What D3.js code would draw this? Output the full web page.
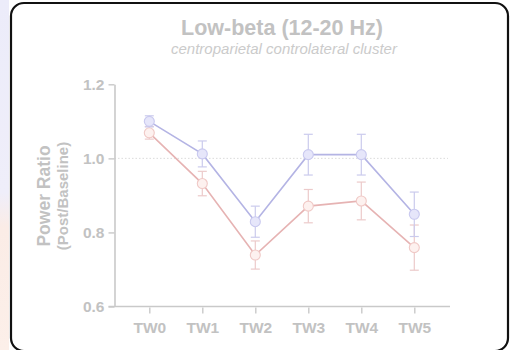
<!DOCTYPE html>
<html>
<head>
<meta charset="utf-8">
<script src="https://cdn.jsdelivr.net/npm/d3@7"></script>
<style>
  html, body { margin: 0; padding: 0; background: #fff; }
  svg { display: block; font-family: "Liberation Sans", Arial, sans-serif; }
</style>
</head>
<body>
<svg id="chart" width="513" height="350"></svg>
<script>
// Time windows and per-condition power ratios (post / baseline) with SEM
const windows = ["TW0", "TW1", "TW2", "TW3", "TW4", "TW5"];
const blueMean = [1.100, 1.012, 0.829, 1.010, 1.010, 0.849];
const blueErr  = [0.015, 0.035, 0.042, 0.055, 0.055, 0.060];
const pinkMean = [1.069, 0.932, 0.739, 0.871, 0.885, 0.759];
const pinkErr  = [0.017, 0.033, 0.038, 0.045, 0.051, 0.061];
const yTicks = [0.6, 0.8, 1.0, 1.2];

const svg = d3.select("#chart");
const textGrey = "#c2c2c2";
const axisGrey = "#c9c9c9";
const font = "Liberation Sans, Arial, sans-serif";

// Side strip and outer rounded frame
const grad = svg.append("defs").append("linearGradient")
  .attr("id", "strip").attr("x1", 0).attr("y1", 0).attr("x2", 0).attr("y2", 1);
grad.append("stop").attr("offset", "0%").attr("stop-color", "#ececfa");
grad.append("stop").attr("offset", "55%").attr("stop-color", "#efeefa");
grad.append("stop").attr("offset", "65%").attr("stop-color", "#fbece6");
grad.append("stop").attr("offset", "100%").attr("stop-color", "#fcefe9");
svg.append("rect").attr("x", 0).attr("y", 0).attr("width", 9).attr("height", 350)
  .attr("fill", "url(#strip)");
svg.append("rect").attr("x", 11).attr("y", 3).attr("width", 497).attr("height", 348)
  .attr("rx", 13).attr("fill", "#fff").attr("stroke", "#111").attr("stroke-width", 2.2);

// Titles
svg.append("text").attr("x", 282).attr("y", 35).attr("text-anchor", "middle")
  .attr("font-size", 21.5).attr("font-weight", "bold").attr("fill", textGrey)
  .text("Low-beta (12-20 Hz)");
svg.append("text").attr("x", 284).attr("y", 54).attr("text-anchor", "middle")
  .attr("font-size", 15).attr("font-style", "italic").attr("fill", "#cbcbcb")
  .text("centroparietal controlateral cluster");

// Scales
const y = d3.scaleLinear().domain([0.6, 1.2]).range([306.5, 84.3]);
const x = d3.scalePoint().domain(windows).range([149.3, 414.3]);
const axisX = 114.5;
const axisRight = 450;

// Reference line at ratio 1.0
svg.append("line").attr("x1", axisX).attr("x2", 448)
  .attr("y1", y(1.0)).attr("y2", y(1.0))
  .attr("stroke", "#d2d2d2").attr("stroke-width", 0.8).attr("stroke-dasharray", "1.5,2");

// Y axis
const gy = svg.append("g").attr("transform", `translate(${axisX},0)`)
  .call(d3.axisLeft(y).tickValues(yTicks).tickFormat(d3.format(".1f")).tickSize(6).tickSizeOuter(0));
gy.select(".domain").attr("stroke", axisGrey).attr("stroke-width", 1.6);
gy.selectAll(".tick line").attr("stroke", axisGrey).attr("stroke-width", 1.4);
gy.selectAll(".tick text").attr("fill", textGrey).attr("font-size", 15.5)
  .attr("font-weight", "bold").attr("font-family", font)
  .attr("x", -10);

// X axis
svg.append("line").attr("x1", axisX - 6).attr("x2", axisRight)
  .attr("y1", y(0.6)).attr("y2", y(0.6))
  .attr("stroke", axisGrey).attr("stroke-width", 1.6);
const gx = svg.append("g").attr("transform", `translate(0,${y(0.6) + 1})`)
  .call(d3.axisBottom(x).tickSize(6).tickSizeOuter(0));
gx.select(".domain").remove();
gx.selectAll(".tick line").attr("stroke", axisGrey).attr("stroke-width", 1.4);
gx.selectAll(".tick text").attr("fill", textGrey).attr("font-size", 15.5)
  .attr("font-weight", "bold").attr("font-family", font)
  .attr("y", 14);

// Y axis title
const yTitle = svg.append("g").attr("transform", "translate(0,196) rotate(-90)");
yTitle.append("text").attr("x", 0).attr("y", 50).attr("text-anchor", "middle")
  .attr("font-size", 17.5).attr("font-weight", "bold").attr("fill", textGrey)
  .text("Power Ratio");
yTitle.append("text").attr("x", 0).attr("y", 68).attr("text-anchor", "middle")
  .attr("font-size", 15).attr("font-weight", "bold").attr("fill", textGrey)
  .text("(Post/Baseline)");

// Series: line, error bars, markers
function drawSeries(means, errs, style) {
  const pts = windows.map((w, i) => ({ w, m: means[i], e: errs[i] }));
  const g = svg.append("g");
  g.append("path").datum(pts)
    .attr("d", d3.line().x(d => x(d.w)).y(d => y(d.m)))
    .attr("fill", "none").attr("stroke", style.line).attr("stroke-width", 1.6);
  const eb = g.selectAll(".eb").data(pts).enter().append("g")
    .attr("stroke", style.err).attr("stroke-width", 1.2);
  eb.append("line").attr("x1", d => x(d.w)).attr("x2", d => x(d.w))
    .attr("y1", d => y(d.m - d.e)).attr("y2", d => y(d.m + d.e));
  eb.append("line").attr("x1", d => x(d.w) - 4.5).attr("x2", d => x(d.w) + 4.5)
    .attr("y1", d => y(d.m + d.e)).attr("y2", d => y(d.m + d.e));
  eb.append("line").attr("x1", d => x(d.w) - 4.5).attr("x2", d => x(d.w) + 4.5)
    .attr("y1", d => y(d.m - d.e)).attr("y2", d => y(d.m - d.e));
  g.selectAll("circle").data(pts).enter().append("circle")
    .attr("cx", d => x(d.w)).attr("cy", d => y(d.m)).attr("r", 5)
    .attr("fill", style.fill).attr("stroke", style.stroke).attr("stroke-width", 1.1);
}

drawSeries(pinkMean, pinkErr, { line: "#e6b3b3", err: "#eccaca", fill: "#fdf1ef", stroke: "#f0c9c6" });
drawSeries(blueMean, blueErr, { line: "#b4b4e4", err: "#cbcbed", fill: "#e6e6fa", stroke: "#c9c9ef" });
</script>
</body>
</html>
